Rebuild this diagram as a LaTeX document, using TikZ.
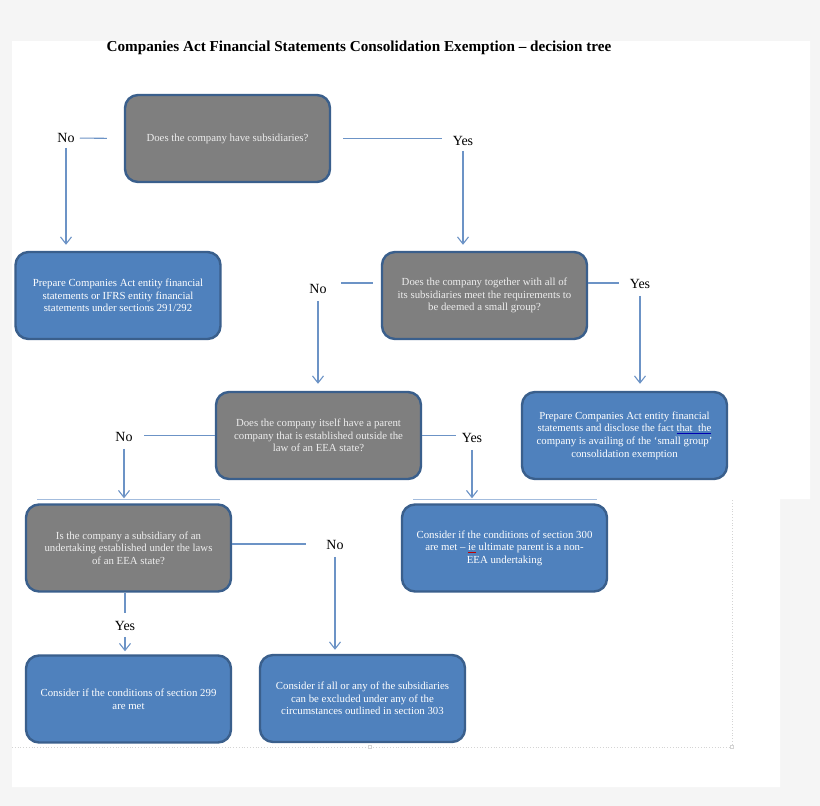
\documentclass[tikz,border=0pt]{standalone}
\usepackage{fontspec}
\setmainfont{Liberation Serif}
\usetikzlibrary{arrows.meta}
\definecolor{pagebg}{HTML}{F5F5F5}
\definecolor{qfill}{HTML}{7F7F7F}
\definecolor{afill}{HTML}{4F81BD}
\definecolor{bord}{HTML}{3A5F8C}
\definecolor{conncol}{HTML}{6C93C6}
\definecolor{sepcol}{HTML}{A3BCDD}
\definecolor{guide}{HTML}{D4D4D4}
\definecolor{txtq}{HTML}{EDEDED}
\newcommand\myblueul[1]{{\color{blue!70!black}\underline{\color{white}#1}}}
\newcommand\myredul[1]{{\color{red!75!black}\underline{\color{white}#1}}}
\tikzset{
  box/.style={draw=bord, line width=2.4pt, rounded corners=13pt,
    minimum width=205pt, minimum height=87pt, align=center,
    font=\fontsize{10.8}{12.6}\selectfont, inner sep=2pt},
  qbox/.style={box, fill=qfill, text=txtq},
  abox/.style={box, fill=afill, text=white},
  lab/.style={font=\fontsize{14}{16}\selectfont, inner sep=0pt, text=black},
  conn/.style={draw=conncol, line width=1.1pt},
  arr/.style={conn, -{Straight Barb[length=7pt,width=11pt,line width=1.1pt]}},
}
\begin{document}
\begin{tikzpicture}[x=1pt,y=-1pt]
\useasboundingbox (0,0) rectangle (820,806);
% page background
\fill[pagebg] (0,0) rectangle (820,806);
\fill[white] (12,41) -- (810,41) -- (810,499) -- (780,499) -- (780,787) -- (12,787) -- cycle;
% guide lines
\draw[guide, dotted, line width=0.8pt] (12,747) -- (732,747) -- (732,499);
\draw[guide, line width=0.6pt, fill=white] (368.5,745.5) rectangle (371.5,748.5);
\draw[guide, line width=0.6pt, fill=white] (730.5,745.5) rectangle (733.5,748.5);
% separator lines above level 4
\draw[sepcol, line width=1pt] (37,499) -- (220,499);
\draw[sepcol, line width=1pt] (413,499) -- (597,499);
% title
\node[font=\fontsize{15.2}{17}\selectfont\bfseries] (title) at (359,48)
  {Companies Act Financial Statements Consolidation Exemption -- decision tree};
% boxes
\node[qbox] (b1) at (227.5,138.5) {Does the company have subsidiaries?};
\node[abox] (b2) at (118,295.5) {Prepare Companies Act entity financial\\statements or IFRS entity financial\\statements under sections 291/292};
\node[qbox] (b3) at (484.5,295.5) {Does the company together with all of\\its subsidiaries meet the requirements to\\be deemed a small group?};
\node[qbox] (b5) at (318.5,435.5) {Does the company itself have a parent\\company that is established outside the\\law of an EEA state?};
\node[abox] (b4) at (624.5,435.5) {Prepare Companies Act entity financial\\statements and disclose the fact \myblueul{that\ \ the}\\company is availing of the `small group'\\consolidation exemption};
\node[qbox] (b6) at (128.5,548) {Is the company a subsidiary of an\\undertaking established under the laws\\of an EEA state?};
\node[abox] (b7) at (504.5,548) {Consider if the conditions of section 300\\are met -- \myredul{ie} ultimate parent is a non-\\EEA undertaking};
\node[abox] (b8) at (128.5,699) {Consider if the conditions of section 299\\are met};
\node[abox] (b9) at (362.5,698.5) {Consider if all or any of the subsidiaries\\can be excluded under any of the\\circumstances outlined in section 303};
% labels
\node[lab] (no1) at (66,138) {No};
\node[lab] (yes1) at (463,141) {Yes};
\node[lab] (no2) at (318,289) {No};
\node[lab] (yes2) at (640,284) {Yes};
\node[lab] (no3) at (124,437) {No};
\node[lab] (yes3) at (472,438) {Yes};
\node[lab] (no4) at (335,545) {No};
\node[lab] (yes4) at (125,626) {Yes};
% connectors
\draw[conn, shorten <=17pt, shorten >=5pt] (b1.west) -- (no1.east);
\draw[arr, shorten <=5pt, shorten >=6pt] (no1.south) -- (no1.south |- b2.north);
\draw[conn, shorten <=12pt, shorten >=11pt] (b1.east) -- (b1.east -| yes1.west);
\draw[arr, shorten <=5pt, shorten >=6pt] (yes1.south) -- (yes1.south |- b3.north);
\draw[conn, shorten <=8pt, shorten >=14pt] ([yshift=12.5pt]b3.west) -- ([yshift=12.5pt]b3.west -| no2.east);
\draw[arr, shorten <=7pt, shorten >=7pt] (no2.south) -- (no2.south |- b5.north);
\draw[conn, shorten >=11pt] ([yshift=12.5pt]b3.east) -- ([yshift=12.5pt]b3.east -| yes2.west);
\draw[arr, shorten <=7pt, shorten >=7pt] (yes2.south) -- (yes2.south |- b4.north);
\draw[conn, shorten >=11pt] (b5.west) -- (b5.west -| no3.east);
\draw[arr, shorten <=7pt, shorten >=5pt] (no3.south) -- (no3.south |- b6.north);
\draw[conn, shorten >=6pt] (b5.west -| b5.east) -- (b5.west -| yes3.west);
\draw[arr, shorten <=7pt, shorten >=5pt] (yes3.south) -- (yes3.south |- b7.north);
\draw[conn, shorten >=20pt] ([yshift=4pt]b6.east) -- ([yshift=4pt]b6.east -| no4.west);
\draw[arr, shorten <=7pt, shorten >=4pt] (no4.south) -- (no4.south |- b9.north);
\draw[conn, shorten >=8pt] (b6.south -| yes4.north) -- (yes4.north);
\draw[arr, shorten <=6pt, shorten >=3pt] (yes4.south) -- (yes4.south |- b8.north);
\end{tikzpicture}
\end{document}
